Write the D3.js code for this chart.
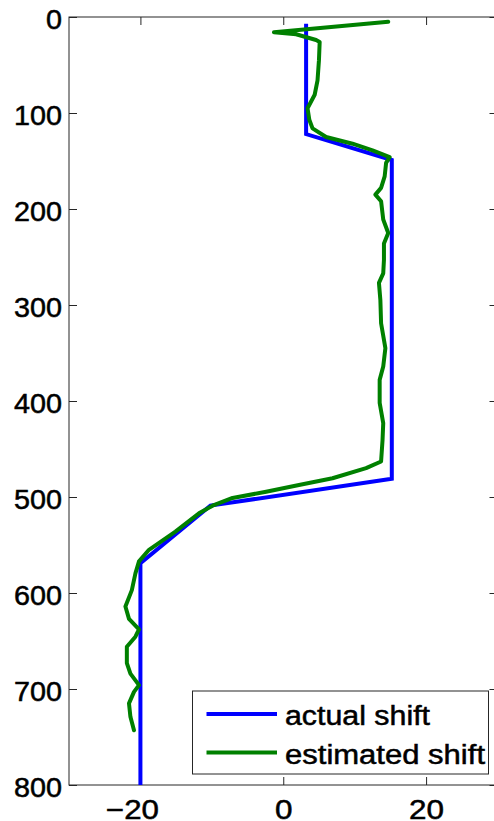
<!DOCTYPE html>
<html><head><meta charset="utf-8">
<script src="https://cdn.jsdelivr.net/npm/d3@7"></script>
<style>
html,body{margin:0;padding:0;background:#fff;}
svg{display:block;font-family:"Liberation Sans",Arial,sans-serif;}
</style></head>
<body>
<svg id="chart" width="494" height="821"></svg>
<script>
// ---- data ----
const xTicks = [-20, 0, 20];
const yTicks = [0, 100, 200, 300, 400, 500, 600, 700, 800];
const seriesNames = ["actual shift", "estimated shift"];
const seriesColors = ["#0000ff", "#008000"];

const actualDepth = [7, 122, 149, 481, 509, 569, 800];
const actualShift = [3.2, 3.2, 15.2, 15.2, -10.2, -20, -20];

const estDepth = [5, 16, 18, 24, 26, 45, 66, 81, 95, 107, 116, 125, 132, 139, 146,
  152, 166, 178, 185, 192, 211, 225, 236, 253, 267, 277, 295, 319, 345, 364, 378,
  402, 423, 441, 463, 470, 480.5, 487.5, 494.5, 501, 509, 517, 536, 555, 567,
  579.5, 597, 614, 627, 638, 645.5, 656, 673, 684, 696, 703, 715, 729, 743];
const estShift = [14.7, -1.3, 1.8, 4.6, 5.1, 5.0, 4.8, 4.4, 3.4, 3.65, 4.1, 6.0, 9.7, 12.5, 14.9,
  14.4, 14.2, 13.7, 12.9, 13.7, 14.0, 14.7, 14.1, 14.1, 14.0, 13.4, 13.6, 13.7, 14.3, 14.0, 13.5,
  13.5, 14.0, 13.9, 13.7, 11.6, 6.9, 2.2, -2.4, -7.1, -9.9, -11.8, -15.1, -18.8, -20.2,
  -20.7, -21.2, -22.1, -21.6, -20.2, -20.7, -21.9, -21.9, -21.4, -20.2, -20.9, -21.6, -21.4, -20.9];

// ---- layout ----
const svg = d3.select("#chart");
const x = d3.scaleLinear().domain([-30, 30]).range([69, 497.5]);
const y = d3.scaleLinear().domain([0, 800]).range([17, 785]);
const axisColor = "#262626";
const fontSize = 27;

function styleAxis(g) {
  g.select(".domain").remove();
  g.selectAll(".tick line").attr("stroke", axisColor).attr("stroke-width", 1);
  g.selectAll("text").attr("fill", "#000").attr("font-size", fontSize)
    .attr("stroke", "#000").attr("stroke-width", 0.5)
    .attr("font-family", '"Liberation Sans",Arial,sans-serif');
}

// box
svg.append("rect")
  .attr("x", x.range()[0]).attr("y", y.range()[0])
  .attr("width", x.range()[1] - x.range()[0]).attr("height", y.range()[1] - y.range()[0])
  .attr("fill", "none").attr("stroke", axisColor).attr("stroke-width", 1);

// left axis with labels
const gl = svg.append("g").attr("transform", `translate(${x.range()[0]},0)`)
  .call(d3.axisLeft(y).tickValues(yTicks).tickSizeInner(-8).tickSizeOuter(0).tickPadding(7));
styleAxis(gl);
gl.selectAll("text").attr("dy", "0.42em")
  .attr("textLength", d => String(d).length * 16)
  .attr("lengthAdjust", "spacingAndGlyphs");

// right axis, ticks only
const gr = svg.append("g").attr("transform", `translate(${x.range()[1]},0)`)
  .call(d3.axisRight(y).tickValues(yTicks).tickSizeInner(-8).tickSizeOuter(0).tickFormat(""));
styleAxis(gr);

// top axis, ticks only
const gt = svg.append("g").attr("transform", `translate(0,${y.range()[0]})`)
  .call(d3.axisTop(x).tickValues(xTicks).tickSizeInner(-8).tickSizeOuter(0).tickFormat(""));
styleAxis(gt);

// bottom axis with labels
const gb = svg.append("g").attr("transform", `translate(0,${y.range()[1]})`)
  .call(d3.axisBottom(x).tickValues(xTicks).tickSizeInner(-8).tickSizeOuter(0)
    .tickFormat(d => d < 0 ? "\u2212" + Math.abs(d) : String(d)));
styleAxis(gb);
gb.selectAll("text")
  .attr("y", 34).attr("dy", 0)
  .attr("text-anchor", d => d < 0 ? "end" : "middle")
  .attr("x", d => d < 0 ? 18 : 0)
  .attr("textLength", d => d < 0 ? 53 : String(Math.abs(d)).length * 17.5)
  .attr("lengthAdjust", "spacingAndGlyphs");

// lines
const actual = actualDepth.map((d, i) => ({depth: d, shift: actualShift[i]}));
const est = estDepth.map((d, i) => ({depth: d, shift: estShift[i]}));
const line = d3.line().x(d => x(d.shift)).y(d => y(d.depth));

svg.append("path").datum(actual).attr("d", line)
  .attr("fill", "none").attr("stroke", seriesColors[0]).attr("stroke-width", 4)
  .attr("stroke-linejoin", "miter");
svg.append("path").datum(est).attr("d", line)
  .attr("fill", "none").attr("stroke", seriesColors[1]).attr("stroke-width", 4)
  .attr("stroke-linejoin", "round").attr("stroke-linecap", "round");

// legend
const lg = svg.append("g");
lg.append("rect").attr("x", 192.5).attr("y", 691).attr("width", 296).attr("height", 83)
  .attr("fill", "#fff").attr("stroke", axisColor).attr("stroke-width", 1);
const legendY = [714, 752.5];
const legendWidths = [145, 200];
seriesNames.forEach((name, i) => {
  lg.append("line").attr("x1", 206.5).attr("x2", 277).attr("y1", legendY[i]).attr("y2", legendY[i])
    .attr("stroke", seriesColors[i]).attr("stroke-width", 4);
  lg.append("text").attr("x", 285).attr("y", legendY[i] + 11)
    .attr("font-size", fontSize).attr("fill", "#000")
    .attr("stroke", "#000").attr("stroke-width", 0.5)
    .attr("textLength", legendWidths[i]).attr("lengthAdjust", "spacingAndGlyphs")
    .text(name);
});
</script>
</body></html>
